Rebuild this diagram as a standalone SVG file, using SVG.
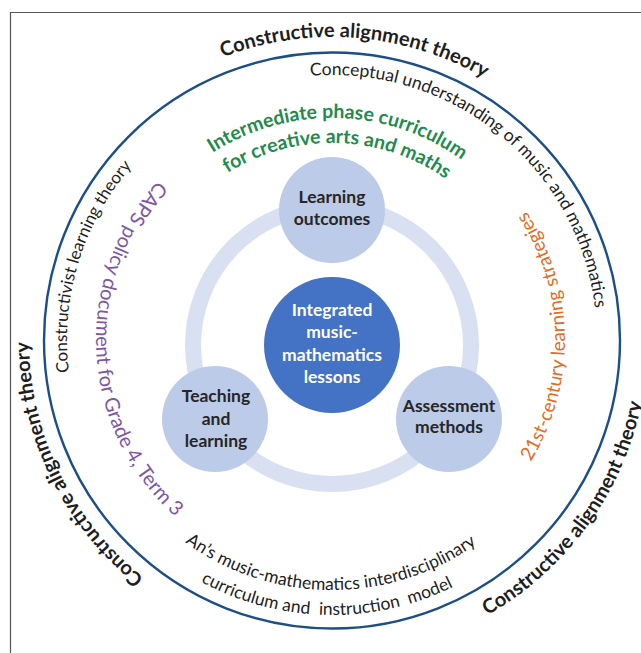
<svg xmlns="http://www.w3.org/2000/svg" width="641" height="653" viewBox="0 0 641 653">
<defs>
<style>
.t{font-family:Lato,"Open Sans","Liberation Sans",sans-serif;}
.title{font-size:20px;font-weight:bold;fill:#1e1e1e;}
.blk{font-size:17px;fill:#1e1e1e;}
.grn{font-size:19.5px;font-weight:bold;fill:#1f8b4c;}
.pur{font-size:20px;fill:#7e55a8;}
.org{font-size:19px;fill:#e36c21;}
.nd{font-size:17.5px;font-weight:bold;fill:#262626;text-anchor:middle;}
.ndw{font-size:17.5px;font-weight:bold;fill:#ffffff;text-anchor:middle;}
.sm{fill:#bccbe7;}
</style>
<path id="pTop" d="M39.32,261.58 A303,303 0 0 1 633.85,313.59"/>
<path id="pLeft" d="M415.52,631.26 A303,303 0 0 1 153.90,94.87"/>
<path id="pRight" d="M193.48,624.02 A316,316 0 0 0 559.31,120.49"/>
<path id="pConc" d="M161.66,137.00 A265,265 0 0 1 561.50,472.50"/>
<path id="pCons" d="M211.69,576.12 A265,265 0 0 1 364.30,76.97"/>
<path id="pAn1" d="M85.80,383.41 A250,250 0 0 0 578.20,383.41"/>
<path id="pAn2" d="M61.18,387.75 A275,275 0 0 0 602.82,387.75"/>
<path id="pG1" d="M113.37,301.45 A222,222 0 0 1 550.63,301.45"/>
<path id="pG2" d="M137.99,305.79 A197,197 0 0 1 526.01,305.79"/>
<path id="pPur" d="M278.91,110.05 A236,236 0 0 0 303.24,574.24"/>
<path id="pOrg" d="M376.46,568.72 A233,233 0 0 0 368.45,109.87"/>
</defs>
<rect x="0" y="0" width="641" height="653" fill="#ffffff"/>
<g id="frame"><path d="M10.5,653 V12.5 H641" fill="none" stroke="#555555" stroke-width="1.2"/></g>
<g id="outer-circle"><circle cx="332" cy="340.5" r="288" fill="none" stroke="#1c4f85" stroke-width="2.4"/></g>
<g id="labels" class="t">
<text class="title"><textPath href="#pTop" startOffset="49.7%" text-anchor="middle">Constructive alignment theory</textPath></text>
<text class="title"><textPath href="#pLeft" startOffset="50%" text-anchor="middle">Constructive alignment theory</textPath></text>
<text class="title"><textPath href="#pRight" startOffset="50%" text-anchor="middle">Constructive alignment theory</textPath></text>
<text class="blk" style="font-size:17.5px"><textPath href="#pConc" startOffset="49.5%" text-anchor="middle">Conceptual understanding of music and mathematics</textPath></text>
<text class="blk"><textPath href="#pCons" startOffset="50%" text-anchor="middle">Constructivist learning theory</textPath></text>
<text class="blk" style="font-size:17.5px"><textPath href="#pAn1" startOffset="49.8%" text-anchor="middle">An’s music-mathematics interdisciplinary</textPath></text>
<text class="blk" style="font-size:17.5px" xml:space="preserve"><textPath href="#pAn2" startOffset="49.3%" text-anchor="middle">curriculum and  instruction  model</textPath></text>
<text class="grn"><textPath href="#pG1" startOffset="51%" text-anchor="middle">Intermediate phase curriculum</textPath></text>
<text class="grn"><textPath href="#pG2" startOffset="51%" text-anchor="middle">for creative arts and maths</textPath></text>
<text class="pur"><textPath href="#pPur" startOffset="50%" text-anchor="middle">CAPS policy document for Grade 4, Term 3</textPath></text>
<text class="org"><textPath href="#pOrg" startOffset="50%" text-anchor="middle">21st-century learning strategies</textPath></text>
</g>
<g id="ring"><circle cx="332" cy="345" r="139" fill="none" stroke="#d8e0f1" stroke-width="16"/></g>
<g id="node-center" class="t">
<circle cx="332" cy="345" r="68" fill="#4472c4"/>
<text class="ndw" x="332" y="316">Integrated</text>
<text class="ndw" x="332" y="338">music-</text>
<text class="ndw" x="332" y="361">mathematics</text>
<text class="ndw" x="332" y="383">lessons</text>
</g>
<g id="node-learning-outcomes" class="t">
<circle class="sm" cx="332" cy="210" r="53"/>
<text class="nd" x="332" y="203">Learning</text>
<text class="nd" x="332" y="225">outcomes</text>
</g>
<g id="node-teaching" class="t">
<circle class="sm" cx="215" cy="419" r="53"/>
<text class="nd" x="216" y="402">Teaching</text>
<text class="nd" x="216" y="425">and</text>
<text class="nd" x="216" y="447">learning</text>
</g>
<g id="node-assessment" class="t">
<circle class="sm" cx="449" cy="419" r="53"/>
<text class="nd" x="449" y="412">Assessment</text>
<text class="nd" x="449" y="433">methods</text>
</g>
</svg>
